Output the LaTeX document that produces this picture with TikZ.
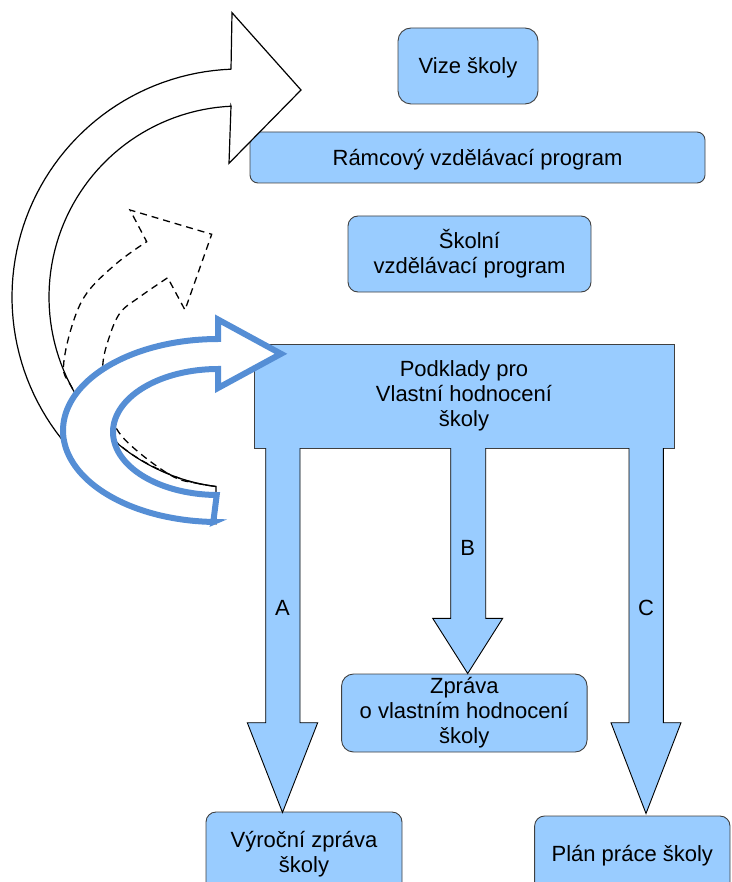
\documentclass[tikz,border=0pt]{standalone}
\usepackage{fontspec}
\setmainfont{Liberation Sans}
\definecolor{boxblue}{RGB}{153,204,255}
\definecolor{arrowblue}{RGB}{85,142,213}
\newcommand\linestrut{\rule[-4.7pt]{0pt}{24.6pt}}
\begin{document}
\begin{tikzpicture}[x=1pt,y=-1pt,
  box/.style={draw=black!75, line width=0.9pt, fill=boxblue, rounded corners=10pt, inner sep=0pt, align=center, font=\fontsize{22}{25}\selectfont,
    execute at begin node={\linestrut}, execute at end node={\linestrut}},
  blk/.style={draw=black, line width=0.9pt, fill=boxblue, line join=miter},
  lbl/.style={font=\fontsize{22}{25}\selectfont, inner sep=0pt},
  bigarrow/.style={draw=black, line width=1.2pt, fill=white},
  dasharrow/.style={draw=black, line width=1.3pt, dash pattern=on 7pt off 5pt},
  bluearrow/.style={draw=arrowblue, line width=6pt, fill=white, line join=miter}]
\useasboundingbox (0,0) rectangle (731,882);
\clip (0,0) rectangle (731,882);

% boxes
\node[box, minimum width=140pt, minimum height=76pt, rounded corners=13pt] (vize) at (468,66) {Vize školy};
\node[box, minimum width=455pt, minimum height=51pt, rounded corners=8pt] (rvp) at (477.5,157.5) {Rámcový vzdělávací program};
\node[box, minimum width=243pt, minimum height=76pt] (svp) at (469.5,254) {Školní\\vzdělávací program};
\node[box, sharp corners, minimum width=420pt, minimum height=104pt] (podklady) at (464,396) {Podklady pro\\Vlastní hodnocení\\školy};
\node[box, minimum width=245.5pt, minimum height=78pt, rounded corners=12pt] (zprava) at (464.3,713) {Zpráva\\o vlastním hodnocení\\školy};
\node[box, minimum width=196pt, minimum height=84pt] (vyrocni) at (304,854) {Výroční zpráva\\školy};
\node[box, minimum width=195.4pt, minimum height=76pt] (plan) at (632.3,854) {Plán práce školy};

% block arrows
\draw[blk] (265.7,448) -- (265.7,722.7) -- (247.3,722.7) -- (282.5,812.5) -- (317.7,722.7) -- (300,722.7) -- (300,448);
\draw[blk] (450.7,448) -- (450.7,618.3) -- (432.7,618.3) -- (467.7,673.5) -- (502.7,618.3) -- (485.7,618.3) -- (485.7,448);
\draw[blk] (629,448) -- (629,722.7) -- (611,722.7) -- (646,813.5) -- (681,722.7) -- (663.3,722.7) -- (663.3,448);

\node[lbl] (la) at (282.5,608) {A};
\node[lbl] (lb) at (467.7,547.5) {B};
\node[lbl] (lc) at (646,608) {C};

% big circular arrow
\draw[bigarrow] (231,69.3) -- (232,12.7) -- (301,90) -- (229,163.3) -- (231,106.2)
  -- plot[domain=267.3:97.2, samples=80] ({240+191*cos(\x)},{297+191*sin(\x)})
  -- (216,523.7)
  -- plot[domain=96.04:267.74, samples=80] ({240+228*cos(\x)},{297+228*sin(\x)})
  -- cycle;

% dashed arrow
\draw[dasharrow] plot[smooth, tension=0.6] coordinates {(216,486.5) (180,478.5) (130,453) (90,415) (70.5,385) (63.5,366.7) (71.7,326.7) (86.7,293.3) (116.7,263.3) (146.7,241.7)}
  -- (130,210) -- (211.7,234.3) -- (185,310) -- (167.7,277.7)
  -- plot[smooth, tension=0.6] coordinates {(167.7,277.7) (140,296.7) (120,313) (108.3,340) (102.7,366.7) (106,400) (117.3,430) (140,453.3) (173.3,476.7) (196.7,483.3) (216,486.5)};

% blue arrow
\draw[bluearrow] (218,339) -- (218,319.5) -- (281,353.8) -- (218,388) -- (218,369)
  -- plot[domain=270:90.7, samples=80] ({218+105*cos(\x)},{432+63*sin(\x)})
  -- (213.3,522)
  -- plot[domain=91.7:270, samples=80] ({218+155*cos(\x)},{430.5+91.5*sin(\x)})
  -- cycle;
\end{tikzpicture}
\end{document}
